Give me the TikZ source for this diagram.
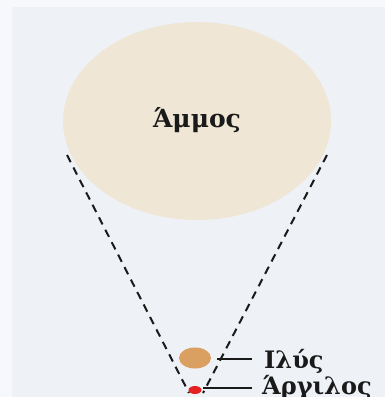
\documentclass[tikz,border=0pt]{standalone}
\usepackage{fontspec}
\usetikzlibrary{shapes.geometric}
\setmainfont{DejaVu Serif}
\definecolor{bgc}{HTML}{EEF1F6}
\definecolor{bgl}{HTML}{F7F8FC}
\definecolor{sand}{HTML}{EFE6D6}
\definecolor{silt}{HTML}{D9A062}
\definecolor{clay}{HTML}{E42222}
\definecolor{ink}{HTML}{1A1A1A}
\begin{document}
\begin{tikzpicture}[x=1pt,y=-1pt,
  cone/.style={ink, line width=2pt, dash pattern=on 8pt off 6pt},
  leader/.style={ink, line width=1.2pt},
  lbl/.style={anchor=base west, inner sep=0pt, text=ink, font=\bfseries\fontsize{24}{28}\selectfont}]
\useasboundingbox (0,0) rectangle (385,397);
\fill[bgc] (0,0) rectangle (385,397);
\fill[bgl] (0,0) rectangle (12,397);
\fill[bgl] (0,0) rectangle (385,7);
% sand
\fill[sand] (197,121) ellipse [x radius=134, y radius=99];
\node[text=ink, font=\bfseries\fontsize{25}{30}\selectfont, inner sep=0pt, anchor=base] (ammos) at (197,127) {Άμμος};
% cone
\coordinate (l1) at (67,155);
\coordinate (l2) at (189,393);
\coordinate (r1) at (327,155);
\coordinate (r2) at (203,393);
\draw[cone] (l1) -- (l2);
\draw[cone] (r1) -- (r2);
% silt and clay
\node[ellipse, fill=silt, minimum width=32pt, minimum height=21pt, inner sep=0pt] (ilys) at (195,358) {};
\node[ellipse, fill=clay, minimum width=13pt, minimum height=8pt, inner sep=0pt] (argilos) at (195,390) {};
\coordinate (a1) at (217,359);
\coordinate (a2) at (252,359);
\coordinate (b1) at (203,388);
\coordinate (b2) at (252,388);
\draw[leader] (a1) -- (a2);
\draw[leader] (b1) -- (b2);
\node[lbl] (tilys) at (264,368) {Ιλύς};
\node[lbl] (targ) at (262,394) {Άργιλος};
\end{tikzpicture}
\end{document}
